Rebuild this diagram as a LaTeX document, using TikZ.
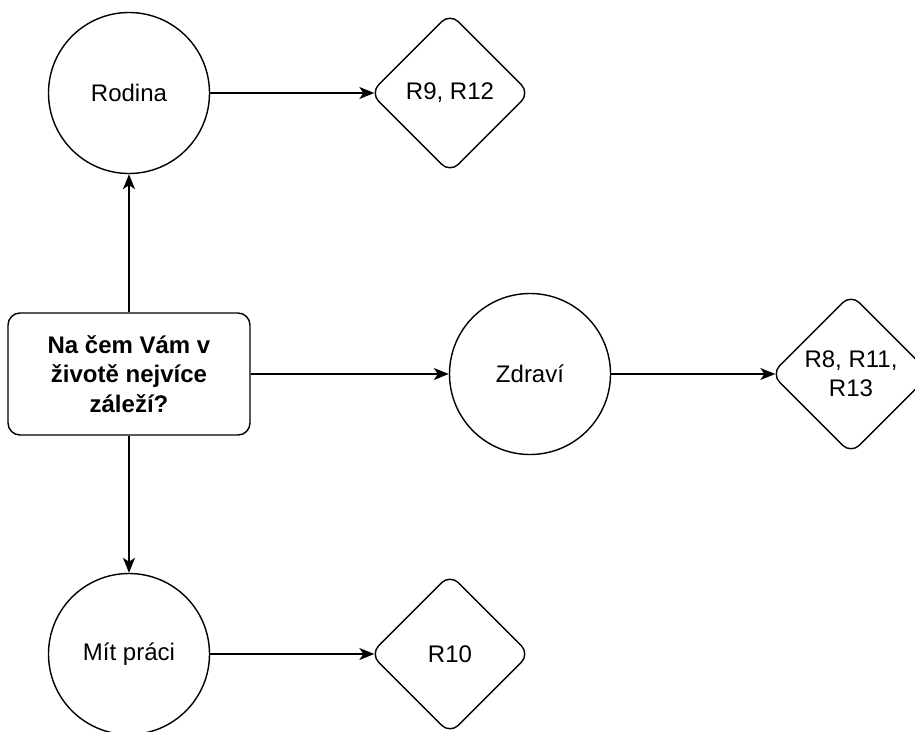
\documentclass[tikz,border=0pt]{standalone}
\usepackage{fontspec}
\setmainfont{Liberation Sans}
\usetikzlibrary{shapes.geometric,arrows.meta}
\begin{document}
\begin{tikzpicture}[x=1pt,y=-1pt,
  every node/.style={font=\fontsize{24}{29}\selectfont},
  topic/.style={circle,draw,line width=1.4pt,minimum size=161pt,inner sep=0pt},
  result/.style={diamond,draw,line width=1.4pt,minimum width=160pt,minimum height=160pt,
    inner sep=0pt,rounded corners=12pt,align=center},
  question/.style={rectangle,draw,line width=1.4pt,rounded corners=12pt,
    minimum width=242pt,minimum height=122pt,align=center,
    font=\bfseries\fontsize{24}{29.5}\selectfont},
  link/.style={line width=1.4pt,-{Stealth[length=15pt,width=12pt,inset=4pt]}}]
\useasboundingbox (0,0) rectangle (915,731);
\clip (0,0) rectangle (915,731);

% central question
\node[question] (q) at (129,374) {Na čem Vám v\\životě nejvíce\\záleží?};

% answers
\node[topic] (rod) at (129,93) {Rodina};
\node[topic] (zdr) at (530,374) {Zdraví};
\node[topic] (mit) at (129,654) {Mít práci};

% related items
\node[result] (r1) at (450,93) {R9, R12};
\node[result] (r2) at (851,374) {R8, R11,\\R13};
\node[result] (r3) at (450,654) {R10};

% connectors
\draw[link] (q.north) -- (rod.south);
\draw[link] (q.south) -- (mit.north);
\draw[link] (q.east) -- (zdr.west);
\draw[link] (rod.east) -- ([xshift=5pt]r1.west);
\draw[link] (zdr.east) -- ([xshift=5pt]r2.west);
\draw[link] (mit.east) -- ([xshift=5pt]r3.west);
\end{tikzpicture}
\end{document}
